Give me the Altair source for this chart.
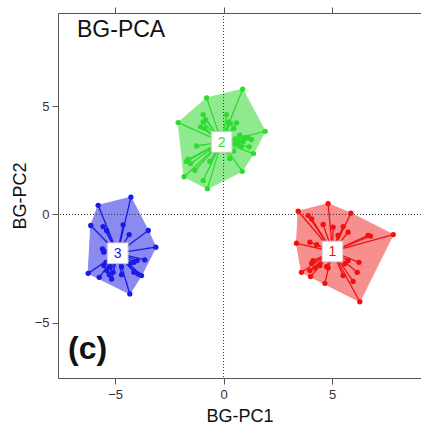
import altair as alt
import pandas as pd

# ---- data ----
c1_x = [3.44, 4.82, 7.82, 6.28, 3.59, 3.36, 3.90, 4.06, 5.87, 4.59, 5.05, 5.51, 5.74, 5.28,
        6.66, 6.77, 3.98, 4.29, 5.74, 6.24, 5.59, 4.13, 4.06, 4.44, 4.75, 4.82, 4.21, 3.98,
        4.01, 5.51, 5.97, 6.16, 4.67]
c1_y = [0.15, 0.50, -0.93, -4.03, -2.67, -1.33, -0.05, -0.20, 0.06, -0.46, -0.59, -0.56,
        -0.82, -0.97, -0.97, -1.00, -1.28, -1.39, -2.13, -2.21, -2.28, -2.13, -2.25, -2.36,
        -2.41, -2.47, -2.47, -2.59, -2.87, -2.82, -3.09, -2.67, -3.18]

c2_x = [-0.78, 0.88, 1.92, 1.38, 0.86, -0.74, -1.82, -2.09, -0.94, -0.82, -0.94, -1.06,
        -0.86, 0.14, 0.21, 0.32, 0.60, 0.47, 0.75, 0.98, 1.13, 1.29, 0.57, 0.67, 0.90, 0.83,
        1.18, 0.47, 0.29, -1.24, -0.55, -0.63, -1.63, -1.71, -1.52, -1.32, -0.94]
c2_y = [5.38, 5.79, 3.84, 2.81, 1.99, 1.19, 1.74, 4.24, 4.61, 4.38, 4.27, 4.04, 3.97, 4.61,
        4.27, 4.20, 4.23, 3.97, 3.66, 3.55, 3.55, 3.46, 3.43, 3.27, 3.35, 3.12, 3.12, 2.93,
        2.58, 3.16, 2.96, 2.45, 2.55, 2.45, 2.35, 2.04, 1.57]

c3_x = [-5.78, -4.27, -3.47, -3.12, -3.78, -4.32, -6.24, -6.12, -5.55, -5.39, -5.58, -5.52,
        -4.63, -4.35, -3.63, -3.98, -4.13, -4.32, -3.94, -4.13, -4.70, -4.70, -5.24, -5.42,
        -5.52, -5.39, -5.27, -5.73, -5.16, -5.09]
c3_y = [0.42, 0.80, -0.74, -1.51, -2.82, -3.67, -2.72, -0.51, -0.56, -0.74, -1.59, -1.74,
        -0.48, -0.93, -2.10, -2.13, -2.21, -2.28, -2.75, -2.67, -2.41, -2.78, -2.44, -2.21,
        -2.36, -2.59, -2.78, -2.90, -2.98, -2.67]

group_labels = ["1", "2", "3"]
centroid_x = [5.02, -0.09, -4.88]
centroid_y = [-1.71, 3.35, -1.79]
point_colors = ["#F01010", "#2EDB2E", "#1A1AE6"]
hull_colors = ["#F78F8F", "#8FEA8F", "#8A8AF0"]
label_colors = ["#E83030", "#3CC83C", "#3030C8"]
x_ticks = [-5, 0, 5]
y_ticks = [-5, 0, 5]

X_DOM = [-7.63, 9.1]
Y_DOM = [-7.55, 9.3]


def convex_hull(pts):
    pts = sorted(set(pts))
    if len(pts) < 3:
        return pts

    def cross(o, a, b):
        return (a[0] - o[0]) * (b[1] - o[1]) - (a[1] - o[1]) * (b[0] - o[0])

    lower, upper = [], []
    for p in pts:
        while len(lower) >= 2 and cross(lower[-2], lower[-1], p) <= 0:
            lower.pop()
        lower.append(p)
    for p in reversed(pts):
        while len(upper) >= 2 and cross(upper[-2], upper[-1], p) <= 0:
            upper.pop()
        upper.append(p)
    return lower[:-1] + upper[:-1]


clusters = [(c1_x, c1_y), (c2_x, c2_y), (c3_x, c3_y)]

pt_rows, hull_rows = [], []
for gi, (xs_, ys_) in enumerate(clusters):
    g = group_labels[gi]
    for x, y in zip(xs_, ys_):
        pt_rows.append({"g": g, "x": x, "y": y, "cx": centroid_x[gi], "cy": centroid_y[gi]})
    hull = convex_hull(list(zip(xs_, ys_)))
    hull = hull + [hull[0]]
    for k, (x, y) in enumerate(hull):
        hull_rows.append({"g": g, "x": x, "y": y, "o": k})

pts = pd.DataFrame(pt_rows)
hulls = pd.DataFrame(hull_rows)
cent = pd.DataFrame({"g": group_labels, "x": centroid_x, "y": centroid_y})

xs = alt.Scale(domain=X_DOM, nice=False, zero=False)
ys = alt.Scale(domain=Y_DOM, nice=False, zero=False)
color_scale = alt.Scale(domain=group_labels, range=point_colors)
label_scale = alt.Scale(domain=group_labels, range=label_colors)

axis_common = dict(grid=False, domainColor="#555555", tickColor="#555555", tickSize=6,
                   labelColor="#333333", labelFontSize=13, labelFont="Liberation Sans",
                   domainWidth=1)
title_common = dict(titleFont="Liberation Sans", titleFontSize=18, titleFontWeight="normal",
                    titleColor="#111111")

x_axis = alt.Axis(values=x_ticks, title="BG-PC1", orient="bottom", labelPadding=4,
                  titlePadding=6, **axis_common, **title_common)
y_axis = alt.Axis(values=y_ticks, title="BG-PC2", labelPadding=3, titlePadding=5,
                  **axis_common, **title_common)
x_top_axis = alt.Axis(values=x_ticks, orient="top", labels=False, title=None, **axis_common)

base = alt.Chart(pts)

hull_layers = []
for gi, g in enumerate(group_labels):
    hull_layers.append(
        alt.Chart(hulls[hulls.g == g]).mark_line(
            fill=hull_colors[gi], fillOpacity=1, stroke=hull_colors[gi], strokeWidth=1,
        ).encode(
            x=alt.X("x:Q", scale=xs, axis=x_axis),
            y=alt.Y("y:Q", scale=ys, axis=y_axis),
            order="o:Q",
        )
    )

zero_v = alt.Chart(pd.DataFrame({"x": [0]})).mark_rule(
    color="#333333", strokeDash=[1, 2], strokeWidth=1
).encode(x=alt.X("x:Q", scale=xs, axis=x_axis))

zero_h = alt.Chart(pd.DataFrame({"y": [0]})).mark_rule(
    color="#333333", strokeDash=[1, 2], strokeWidth=1
).encode(y=alt.Y("y:Q", scale=ys, axis=y_axis))

spokes = base.mark_rule(strokeWidth=1.3).encode(
    x=alt.X("cx:Q", scale=xs, axis=x_axis),
    y=alt.Y("cy:Q", scale=ys, axis=y_axis),
    x2="x:Q", y2="y:Q",
    color=alt.Color("g:N", scale=color_scale, legend=None),
)

dots = base.mark_circle(size=28, opacity=1).encode(
    x=alt.X("x:Q", scale=xs, axis=x_axis),
    y=alt.Y("y:Q", scale=ys, axis=y_axis),
    color=alt.Color("g:N", scale=color_scale, legend=None),
)

boxes = alt.Chart(cent).mark_square(
    size=430, fill="white", stroke="#C8C8C8", strokeWidth=1, opacity=1
).encode(
    x=alt.X("x:Q", scale=xs, axis=x_axis),
    y=alt.Y("y:Q", scale=ys, axis=y_axis),
)

box_text = alt.Chart(cent).mark_text(
    fontSize=14, font="Liberation Sans", baseline="middle", align="center", dy=1
).encode(
    x=alt.X("x:Q", scale=xs, axis=x_axis),
    y=alt.Y("y:Q", scale=ys, axis=y_axis),
    text="g:N",
    color=alt.Color("g:N", scale=label_scale, legend=None),
)

title_txt = alt.Chart(pd.DataFrame({"t": ["BG-PCA"]})).mark_text(
    fontSize=23, font="Liberation Sans", align="left", baseline="alphabetic", color="#111111"
).encode(x=alt.value(19), y=alt.value(24), text="t:N")

panel_txt = alt.Chart(pd.DataFrame({"t": ["(c)"]})).mark_text(
    fontSize=32, font="Liberation Sans", fontWeight="bold", align="left",
    baseline="alphabetic", color="#111111"
).encode(x=alt.value(10), y=alt.value(346), text="t:N")

# top tick axis drawn by its own layer, with the x axis resolved independently
top_ticks = alt.Chart(pd.DataFrame({"x": [0]})).mark_point(opacity=0).encode(
    x=alt.X("x:Q", scale=xs, axis=x_top_axis)
)

main = alt.layer(
    *hull_layers, zero_v, zero_h, spokes, dots, boxes, box_text, title_txt, panel_txt
)

chart = alt.layer(main, top_ticks).resolve_axis(x="independent").properties(
    width=363, height=365, autosize="none",
    padding={"left": 58, "top": 13, "right": 0, "bottom": 47},
).configure_view(strokeWidth=0, stroke="transparent", fill="white").configure(background="white")

chart.save("out.html", embed_options={"renderer": "svg", "actions": False})
